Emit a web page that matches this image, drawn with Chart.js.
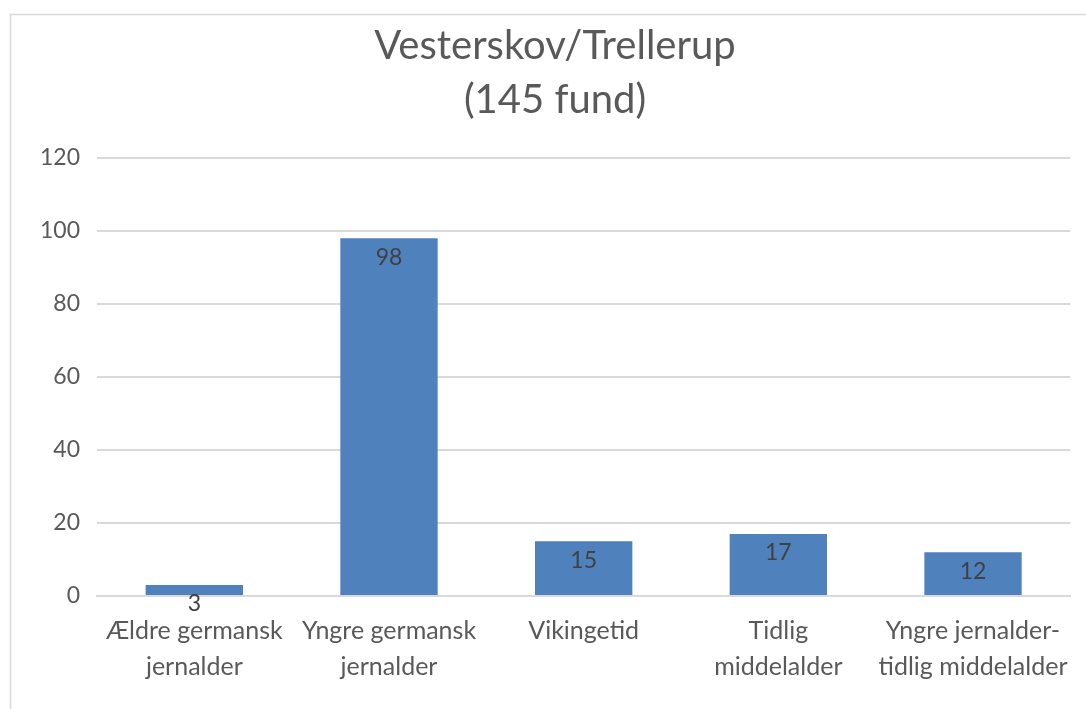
<!DOCTYPE html>
<html>
<head>
<meta charset="utf-8">
<script src="https://cdn.jsdelivr.net/npm/chart.js@4/dist/chart.umd.min.js"></script>
<style>
html,body{margin:0;padding:0;background:#fff;}
#wrap{width:1086px;height:709px;position:relative;}
</style>
</head>
<body>
<div id="wrap"><canvas id="c" width="1086" height="709"></canvas></div>
<script>
const categories = [
  ["Ældre germansk", "jernalder"],
  ["Yngre germansk", "jernalder"],
  ["Vikingetid"],
  ["Tidlig", "middelalder"],
  ["Yngre jernalder-", "tidlig middelalder"]
];
const values = [3, 98, 15, 17, 12];
const titleLines = ["Vesterskov/Trellerup", "(145 fund)"];
const yTicks = [0, 20, 40, 60, 80, 100, 120];

const FONT = "Lato";

const frame = {
  id: 'frame',
  beforeDraw(chart) {
    const ctx = chart.ctx;
    ctx.save();
    ctx.fillStyle = '#fff';
    ctx.fillRect(0, 0, chart.width, chart.height);
    ctx.strokeStyle = '#d9d9d9';
    ctx.lineWidth = 1.5;
    ctx.beginPath();
    ctx.moveTo(10.5, chart.height);
    ctx.lineTo(10.5, 14.5);
    ctx.lineTo(chart.width, 14.5);
    ctx.stroke();
    ctx.restore();
  }
};

const barLabels = {
  id: 'barLabels',
  afterDatasetsDraw(chart) {
    const ctx = chart.ctx;
    const meta = chart.getDatasetMeta(0);
    ctx.save();
    ctx.font = `23px ${FONT}`;
    ctx.fillStyle = '#404040';
    ctx.textAlign = 'center';
    ctx.textBaseline = 'middle';
    meta.data.forEach((bar, i) => {
      ctx.fillText(String(values[i]), bar.x, bar.y + 19);
    });
    ctx.restore();
  }
};

new Chart(document.getElementById('c'), {
  type: 'bar',
  data: {
    labels: categories,
    datasets: [{
      data: values,
      backgroundColor: '#4f81bd',
      borderWidth: 0,
      categoryPercentage: 1,
      barPercentage: 0.5
    }]
  },
  options: {
    responsive: false,
    animation: false,
    layout: { padding: { left: 39, right: 15, top: 0, bottom: 0 } },
    plugins: {
      legend: { display: false },
      tooltip: { enabled: false },
      title: {
        display: true,
        text: titleLines,
        color: '#595959',
        font: { family: FONT, size: 40, weight: 'normal', lineHeight: 1.35 },
        padding: { top: 19, bottom: 31 }
      }
    },
    scales: {
      x: {
        grid: { display: false, drawTicks: false },
        border: { display: true, color: '#d9d9d9', width: 2 },
        ticks: {
          color: '#595959',
          font: { family: FONT, size: 25, lineHeight: 1.44 },
          padding: 17,
          maxRotation: 0,
          autoSkip: false
        },
        afterFit(scale) { scale.height = 113; }
      },
      y: {
        min: 0,
        max: 120,
        afterBuildTicks(scale) { scale.ticks = yTicks.map(v => ({ value: v })); },
        grid: { color: '#d9d9d9', lineWidth: 2, drawTicks: false },
        border: { display: false },
        ticks: {
          color: '#595959',
          font: { family: FONT, size: 23 },
          padding: 17
        },
        afterFit(scale) { scale.width = 58; }
      }
    }
  },
  plugins: [frame, barLabels]
});
</script>
</body>
</html>
